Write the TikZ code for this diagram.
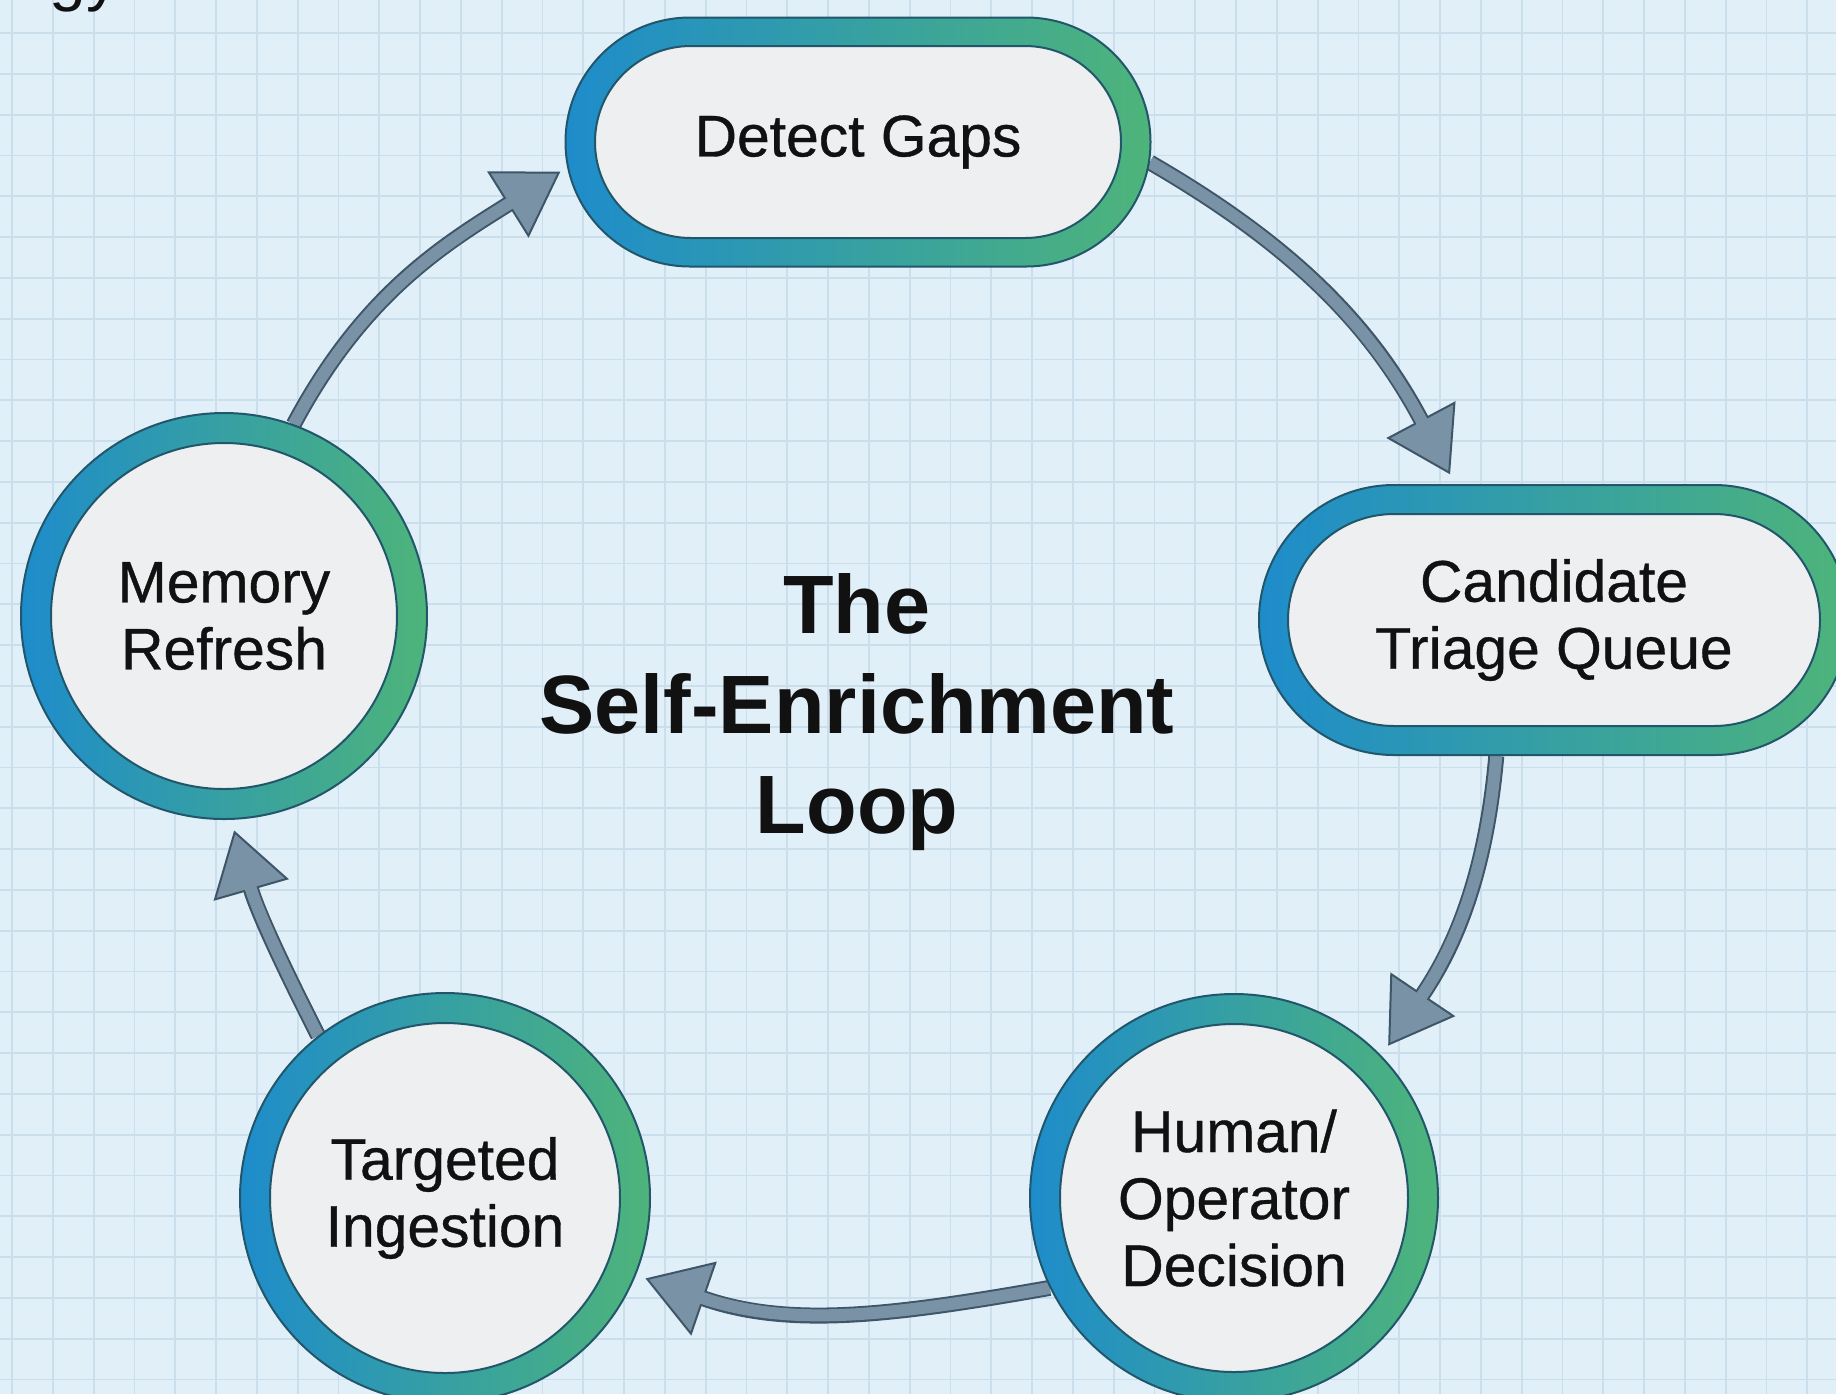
\documentclass[tikz,border=0pt]{standalone}
\usepackage{fontspec}
\setmainfont{Liberation Sans}
\newfontfamily\nodefont[FakeBold=0.6]{Liberation Sans}
\usetikzlibrary{shapes.misc,arrows.meta}
\definecolor{bg}{HTML}{E1F0F8}
\definecolor{gridc}{HTML}{CADFEB}
\definecolor{ringl}{HTML}{1E8CCB}
\definecolor{ringr}{HTML}{4EB47A}
\definecolor{ringedge}{HTML}{22566A}
\definecolor{innerfill}{HTML}{EDEFF0}
\definecolor{arrowfill}{HTML}{7A92A5}
\definecolor{arrowedge}{HTML}{3E5668}
\definecolor{ink}{HTML}{111111}
\pgfdeclarelayer{gridlayer}
\pgfdeclarelayer{arrowlayer}
\pgfsetlayers{gridlayer,arrowlayer,main}
\tikzset{
  ring/.style={left color=ringl, right color=ringr, draw=ringedge, line width=1pt, inner sep=0pt},
  innerpart/.style={fill=innerfill, draw=ringedge, line width=1pt, inner sep=0pt, align=center, text=ink, font=\nodefont\fontsize{29.4}{33.5}\selectfont},
  pillring/.style={ring, rounded rectangle},
  pillinner/.style={innerpart, rounded rectangle},
  circring/.style={ring, circle},
  circinner/.style={innerpart, circle},
  flowout/.style={draw=arrowedge, line width=8pt, -{Triangle[length=31pt,width=39pt,fill=arrowfill,line width=1pt]}},
  flowin/.style={draw=arrowfill, line width=6pt},
  gridline/.style={draw=gridc, line width=0.9pt},
  titletext/.style={font=\bfseries\fontsize{41.4}{49.8}\selectfont, align=center, text=ink},
}
\begin{document}
\begin{tikzpicture}[x=0.5pt,y=0.5pt]
\useasboundingbox (0,0) rectangle (1836,-1394);
\clip (0,0) rectangle (1836,-1394);
\begin{pgfonlayer}{gridlayer}
  \fill[bg] (0,0) rectangle (1836,-1394);
  \foreach \i in {0,...,44} \draw[gridline] ({12+40.8*\i},0) -- ({12+40.8*\i},-1394);
  \foreach \j in {0,...,33} \draw[gridline] (0,{-33-40.8*\j}) -- (1836,{-33-40.8*\j});
\end{pgfonlayer}

% cut-off text at the top left
\node[anchor=base west, inner sep=0pt, text=ink, font=\fontsize{33}{40}\selectfont] (frag) at (49,2) {gy};

% nodes
\node[pillring, minimum width=292.5pt, minimum height=124.5pt] (dg) at (858,-142) {};
\node[pillinner, minimum width=263pt, minimum height=96pt] (dgin) at (dg.center) {Detect Gaps};

\node[pillring, minimum width=295pt, minimum height=135pt] (ctq) at (1554,-620) {};
\node[pillinner, minimum width=266pt, minimum height=106pt] (ctqin) at (ctq.center) {Candidate\\Triage Queue};

\node[circring, minimum size=204pt] (hod) at (1234,-1198) {};
\node[circinner, minimum size=174pt] (hodin) at (hod.center) {Human/\\Operator\\Decision};

\node[circring, minimum size=205pt] (ti) at (445,-1198) {};
\node[circinner, minimum size=175pt] (tiin) at (ti.center) {Targeted\\Ingestion};

\node[circring, minimum size=203pt] (mr) at (224,-616) {};
\node[circinner, minimum size=173pt] (mrin) at (mr.center) {Memory\\Refresh};

\node[titletext] (title) at (857,-712) {The\\Self-Enrichment\\Loop};

% connectors
\begin{pgfonlayer}{arrowlayer}
  \draw[flowout, shorten >=5.5pt] (dg.-4) to[out=-30,in=118] (ctq.126);
  \draw[flowin, shorten >=34.5pt] (dg.-4) to[out=-30,in=118] (ctq.126);

  \draw[flowout, shorten >=6pt] (ctq.-113) to[out=-95,in=56] (hod.44);
  \draw[flowin, shorten >=35pt] (ctq.-113) to[out=-95,in=56] (hod.44);

  \draw[flowout, shorten >=5pt] (hod.-154) to[out=-170,in=-19] (ti.-22);
  \draw[flowin, shorten >=34pt] (hod.-154) to[out=-170,in=-19] (ti.-22);

  \draw[flowout, shorten >=5.5pt] (ti.128) to[out=117,in=-74] (mr.-88);
  \draw[flowin, shorten >=34.5pt] (ti.128) to[out=117,in=-74] (mr.-88);

  \draw[flowout, shorten >=4pt] (mr.70) to[out=62,in=-148] (dg.-175);
  \draw[flowin, shorten >=33pt] (mr.70) to[out=62,in=-148] (dg.-175);
\end{pgfonlayer}
\end{tikzpicture}
\end{document}
